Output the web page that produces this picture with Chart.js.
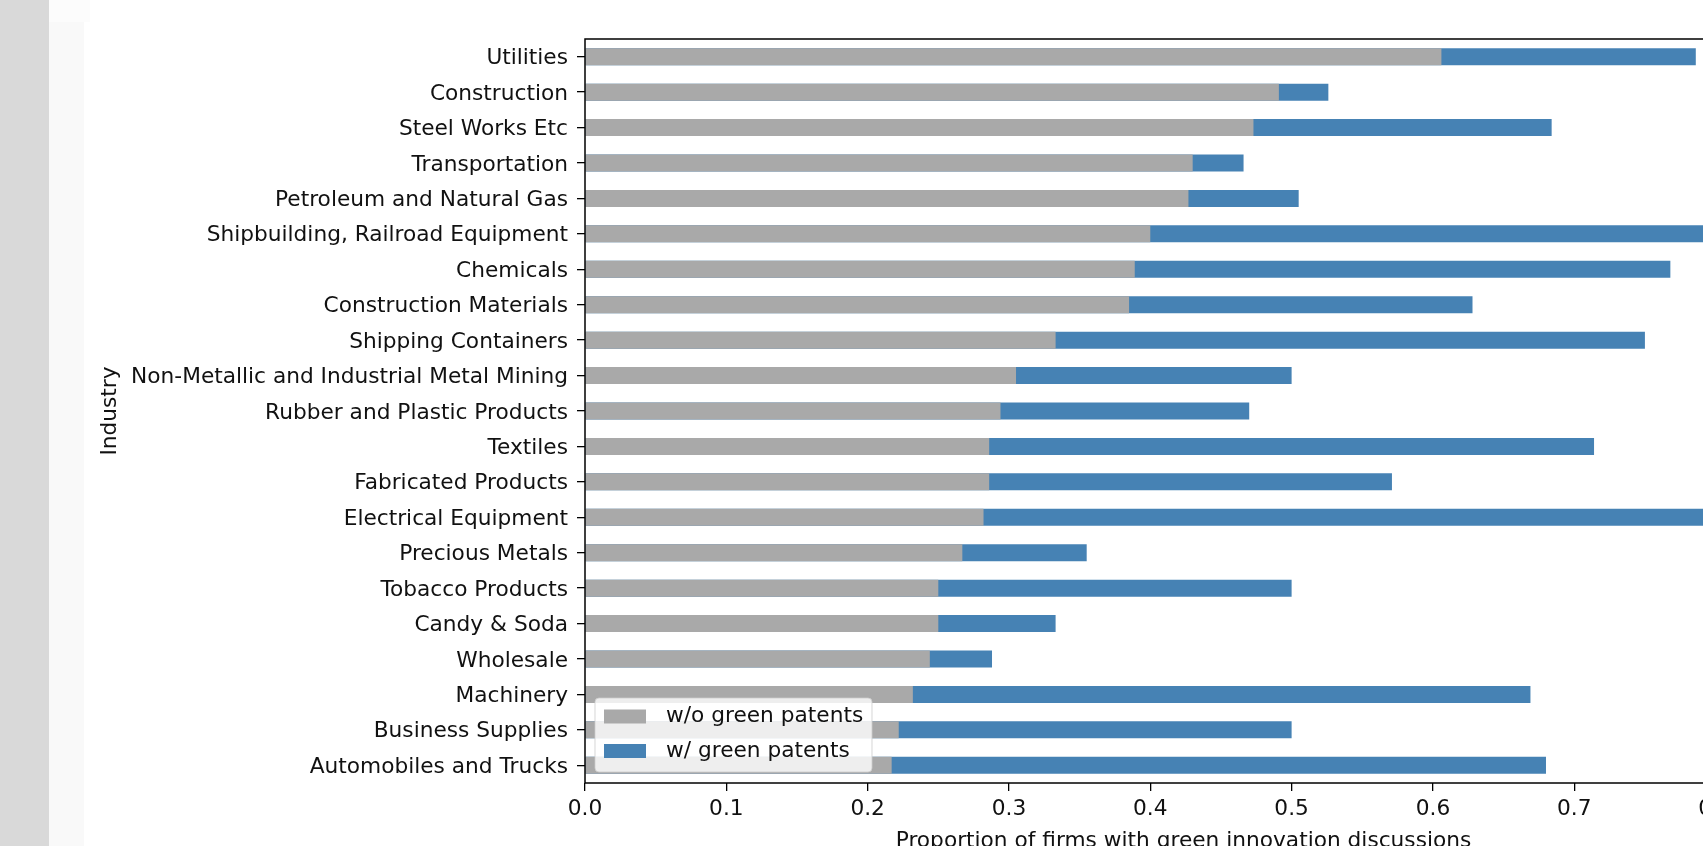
<!DOCTYPE html>
<html>
<head>
<meta charset="utf-8">
<script src="https://cdn.jsdelivr.net/npm/chart.js@4.4.1/dist/chart.umd.min.js"></script>
<style>
  html, body { margin: 0; padding: 0; background: #fff; overflow: hidden; width: 1703px; height: 846px; }
  .strip-dark { position: absolute; left: 0; top: 0; width: 49px; height: 846px; background: #d9d9d9; }
  .strip-light { position: absolute; left: 49px; top: 0; width: 35px; height: 846px; background: #f9f9f9; }
  .strip-top { position: absolute; left: 49px; top: 0; width: 41px; height: 22px; background: #fcfcfc; }
  #salesChart { position: absolute; left: 0; top: 0; }
</style>
</head>
<body>
<div class="strip-dark"></div>
<div class="strip-light"></div>
<div class="strip-top"></div>
<canvas id="salesChart" width="1782" height="880"></canvas>
<script>
// industries, top to bottom
const industries = [
    'Utilities', 'Construction', 'Steel Works Etc', 'Transportation',
    'Petroleum and Natural Gas', 'Shipbuilding, Railroad Equipment', 'Chemicals',
    'Construction Materials', 'Shipping Containers', 'Non-Metallic and Industrial Metal Mining',
    'Rubber and Plastic Products', 'Textiles', 'Fabricated Products', 'Electrical Equipment',
    'Precious Metals', 'Tobacco Products', 'Candy & Soda', 'Wholesale', 'Machinery',
    'Business Supplies', 'Automobiles and Trucks'
];
const withoutPatents = [
    0.606, 0.491, 0.473, 0.430, 0.427, 0.400, 0.389,
    0.385, 0.333, 0.305, 0.294, 0.286, 0.286, 0.282,
    0.267, 0.250, 0.250, 0.244, 0.232, 0.222, 0.217
];
const withPatents = [
    0.786, 0.526, 0.684, 0.466, 0.505, 0.800, 0.768,
    0.628, 0.750, 0.500, 0.470, 0.714, 0.571, 0.800,
    0.355, 0.500, 0.333, 0.288, 0.669, 0.500, 0.680
];
const xTickValues = [0, 0.1, 0.2, 0.3, 0.4, 0.5, 0.6, 0.7, 0.8];

const FONT = { family: '"DejaVu Sans", sans-serif', size: 21.7 };

const frame = {
    id: 'frame',
    afterDatasetsDraw(chart) {
        const { ctx, chartArea: a } = chart;
        ctx.save();
        ctx.strokeStyle = '#000';
        ctx.lineWidth = 1.5;
        ctx.strokeRect(a.left, a.top, a.right - a.left, a.bottom - a.top);
        ctx.restore();
    }
};

// matplotlib style legend in the lower left of the axes
const legendBox = {
    id: 'legendBox',
    afterDraw(chart) {
        const { ctx, chartArea: a } = chart;
        const x = a.left + 10, y = a.bottom - 85, w = 277, h = 74;
        ctx.save();
        ctx.beginPath();
        ctx.roundRect(x, y, w, h, 4);
        ctx.fillStyle = 'rgba(255,255,255,0.8)';
        ctx.fill();
        ctx.strokeStyle = 'rgba(204,204,204,0.8)';
        ctx.lineWidth = 1;
        ctx.stroke();
        ctx.font = FONT.size + 'px ' + FONT.family;
        ctx.textBaseline = 'middle';
        chart.data.datasets.forEach((ds, i) => {
            const cy = y + 18.5 + i * 34.5;
            ctx.fillStyle = ds.backgroundColor;
            ctx.fillRect(x + 9, cy - 7, 42, 14);
            ctx.fillStyle = '#111';
            ctx.fillText(ds.label, x + 71, cy);
        });
        ctx.restore();
    }
};

const ctx = document.getElementById('salesChart').getContext('2d');
new Chart(ctx, {
    type: 'bar',
    data: {
        labels: industries,
        datasets: [{
            label: 'w/o green patents',
            data: withoutPatents,
            backgroundColor: '#a9a9a9',
            grouped: false,
            order: 0
        }, {
            label: 'w/ green patents',
            data: withPatents,
            backgroundColor: '#4682b4',
            grouped: false,
            order: 1
        }]
    },
    options: {
        indexAxis: 'y',
        responsive: false,
        animation: false,
        categoryPercentage: 1,
        barPercentage: 0.48,
        layout: { padding: { left: 90, top: 39, right: 0, bottom: 0 } },
        plugins: { legend: { display: false }, tooltip: { enabled: false } },
        scales: {
            x: {
                min: 0,
                max: 0.847,
                afterBuildTicks: s => { s.ticks = xTickValues.map(v => ({ value: v })); },
                afterFit: s => { s.height = 97; },
                ticks: {
                    color: '#111', font: FONT, padding: 5, maxRotation: 0,
                    callback: v => Number(v).toFixed(1)
                },
                grid: { drawOnChartArea: false, tickLength: 8, color: '#000', lineWidth: 1.3 },
                border: { display: false },
                title: {
                    display: true,
                    text: 'Proportion of firms with green innovation discussions',
                    color: '#111', font: FONT, padding: { top: 0, bottom: 26 }
                }
            },
            y: {
                afterFit: s => { s.width = 495; },
                ticks: { color: '#111', font: FONT, padding: 9, autoSkip: false, labelOffset: 2 },
                grid: { drawOnChartArea: false, offset: false, tickLength: 8, color: '#000', lineWidth: 1.3 },
                border: { display: false },
                title: {
                    display: true, text: 'Industry',
                    color: '#111', font: FONT, padding: { top: 7, bottom: 0 }
                }
            }
        }
    },
    plugins: [frame, legendBox]
});
</script>
</body>
</html>
